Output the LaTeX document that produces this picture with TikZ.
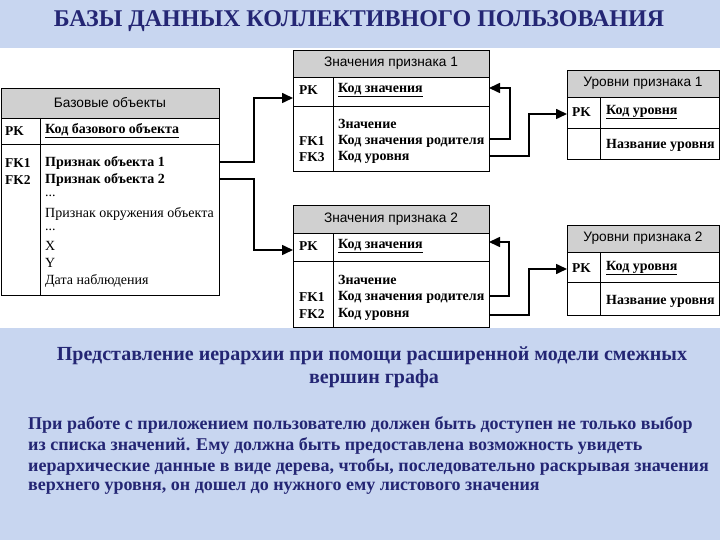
\documentclass[tikz,border=0pt]{standalone}
\usepackage{fontspec}
\setmainfont{Liberation Serif}
\newfontfamily\hdrfont{Liberation Sans}
\usetikzlibrary{arrows.meta}
\definecolor{bgblue}{RGB}{200,214,240}
\definecolor{navy}{RGB}{36,38,116}
\definecolor{hdrgray}{RGB}{208,208,208}
\begin{document}
\begin{tikzpicture}[x=1pt,y=-1pt,
  tbl/.style={draw=black, line width=0.8pt},
  hdr/.style={draw=black, fill=hdrgray, line width=0.8pt},
  hdrtext/.style={font=\hdrfont\fontsize{13.7}{15}\selectfont, anchor=center, inner sep=0},
  keyt/.style={font=\bfseries\fontsize{13.5}{15}\selectfont, anchor=west, inner sep=0},
  fld/.style={font=\bfseries\fontsize{14}{16}\selectfont, anchor=west, inner sep=0},
  fldn/.style={font=\fontsize{14}{16}\selectfont, anchor=west, inner sep=0},
  conn/.style={line width=1.6pt, -{Triangle[length=11pt,width=10pt]}},
  navytext/.style={text=navy, inner sep=0, font=\bfseries\fontsize{18}{20}\selectfont},
]
\fill[bgblue] (0,0) rectangle (720,540);
\useasboundingbox (0,0) rectangle (720,540);
\fill[white] (0,48) rectangle (720,328);

% title
\node[navytext, font=\bfseries\fontsize{24}{26}\selectfont] (title) at (359,21) {БАЗЫ ДАННЫХ КОЛЛЕКТИВНОГО ПОЛЬЗОВАНИЯ};

% ---- Base objects table
\draw[hdr] (1,88) rectangle (219,118);
\draw[tbl] (1,118) rectangle (219,295);
\draw[tbl] (1,144) -- (219,144);
\draw[tbl] (40,118) -- (40,295);
\node[hdrtext] (bh) at (110,103) {Базовые объекты};
\node[keyt] (bpk) at (5,131) {PK};
\node[fld] (bpkf) at (45,131) {\underline{Код базового объекта}};
\node[keyt] (bk1) at (5,163) {FK1};
\node[keyt] (bk2) at (5,180) {FK2};
\node[fld] (bf1) at (45,163) {Признак объекта 1};
\node[fld] (bf2) at (45,180) {Признак объекта 2};
\node[fldn] (bf3) at (45,196) {...};
\node[fldn] (bf4) at (45,214) {Признак окружения объекта};
\node[fldn] (bf5) at (45,230) {...};
\node[fldn] (bf6) at (45,246) {X};
\node[fldn] (bf7) at (45,263) {Y};
\node[fldn] (bf8) at (45,281) {Дата наблюдения};

% ---- Values 1
\draw[hdr] (293,50) rectangle (489,77);
\draw[tbl] (293,77) rectangle (489,171);
\draw[tbl] (293,106) -- (489,106);
\draw[tbl] (333,77) -- (333,171);
\node[hdrtext] (v1h) at (391,63.5) {Значения признака 1};
\node[keyt] (v1pkk) at (299,90) {PK};
\node[fld] (v1pkf) at (338,90) {\underline{Код значения}};
\node[fld] (v1f0) at (338,124) {Значение};
\node[keyt] (v1k1) at (299,141) {FK1};
\node[fld] (v1f1) at (338,141) {Код значения родителя};
\node[keyt] (v1k3) at (299,157) {FK3};
\node[fld] (v1f3) at (338,157) {Код уровня};

% ---- Values 2
\draw[hdr] (293,205) rectangle (489,233);
\draw[tbl] (293,233) rectangle (489,327);
\draw[tbl] (293,261) -- (489,261);
\draw[tbl] (333,233) -- (333,327);
\node[hdrtext] (v2h) at (391,219) {Значения признака 2};
\node[keyt] (v2pkk) at (299,246) {PK};
\node[fld] (v2pkf) at (338,246) {\underline{Код значения}};
\node[fld] (v2f0) at (338,280) {Значение};
\node[keyt] (v2k1) at (299,297) {FK1};
\node[fld] (v2f1) at (338,297) {Код значения родителя};
\node[keyt] (v2k2) at (299,314) {FK2};
\node[fld] (v2f2) at (338,314) {Код уровня};

% ---- Levels 1
\draw[hdr] (567,70) rectangle (719,97);
\draw[tbl] (567,97) rectangle (719,159);
\draw[tbl] (567,128) -- (719,128);
\draw[tbl] (600,97) -- (600,159);
\node[hdrtext] (u1h) at (643,83.5) {Уровни признака 1};
\node[keyt] (u1pkk) at (572,112) {PK};
\node[fld] (u1pkf) at (606,112) {\underline{Код уровня}};
\node[fld] (u1f) at (606,145) {Название уровня};

% ---- Levels 2
\draw[hdr] (567,225) rectangle (719,252);
\draw[tbl] (567,252) rectangle (719,315);
\draw[tbl] (567,282) -- (719,282);
\draw[tbl] (600,252) -- (600,315);
\node[hdrtext] (u2h) at (643,238.5) {Уровни признака 2};
\node[keyt] (u2pkk) at (572,268) {PK};
\node[fld] (u2pkf) at (606,268) {\underline{Код уровня}};
\node[fld] (u2f) at (606,301) {Название уровня};

% ---- connector end points
\coordinate (bfk1) at (219,162);
\coordinate (bfk2) at (219,179);
\coordinate (v1in) at (293,98);
\coordinate (v2in) at (293,250);
\coordinate (v1o1) at (489,139);
\coordinate (v1self) at (489,88);
\coordinate (v1o3) at (489,156);
\coordinate (u1in) at (567,114);
\coordinate (v2o1) at (489,296);
\coordinate (v2self) at (489,242);
\coordinate (v2o2) at (489,315);
\coordinate (u2in) at (567,269);

\draw[conn] (bfk1) -- ++(35,0) |- (v1in);
\draw[conn] (bfk2) -- ++(35,0) |- (v2in);
\draw[conn] (v1o1) -- ++(21,0) |- (v1self);
\draw[conn] (v1o3) -- ++(40,0) |- (u1in);
\draw[conn] (v2o1) -- ++(20,0) |- (v2self);
\draw[conn] (v2o2) -- ++(40,0) |- (u2in);

% ---- bottom text
\node[navytext, font=\bfseries\fontsize{20}{22}\selectfont] (sub1) at (372,356) {Представление иерархии при помощи расширенной модели смежных};
\node[navytext, font=\bfseries\fontsize{20}{22}\selectfont] (sub2) at (374,379) {вершин графа};
\node[navytext, anchor=west] (p1) at (28,425) {При работе с приложением пользователю должен быть доступен не только выбор};
\node[navytext, anchor=west] (p2) at (28,446) {из списка значений. Ему должна быть предоставлена возможность увидеть};
\node[navytext, anchor=west] (p3) at (28,467) {иерархические данные в виде дерева, чтобы, последовательно раскрывая значения};
\node[navytext, anchor=west] (p4) at (28,488) {верхнего уровня, он дошел до нужного ему листового значения};
\end{tikzpicture}
\end{document}
